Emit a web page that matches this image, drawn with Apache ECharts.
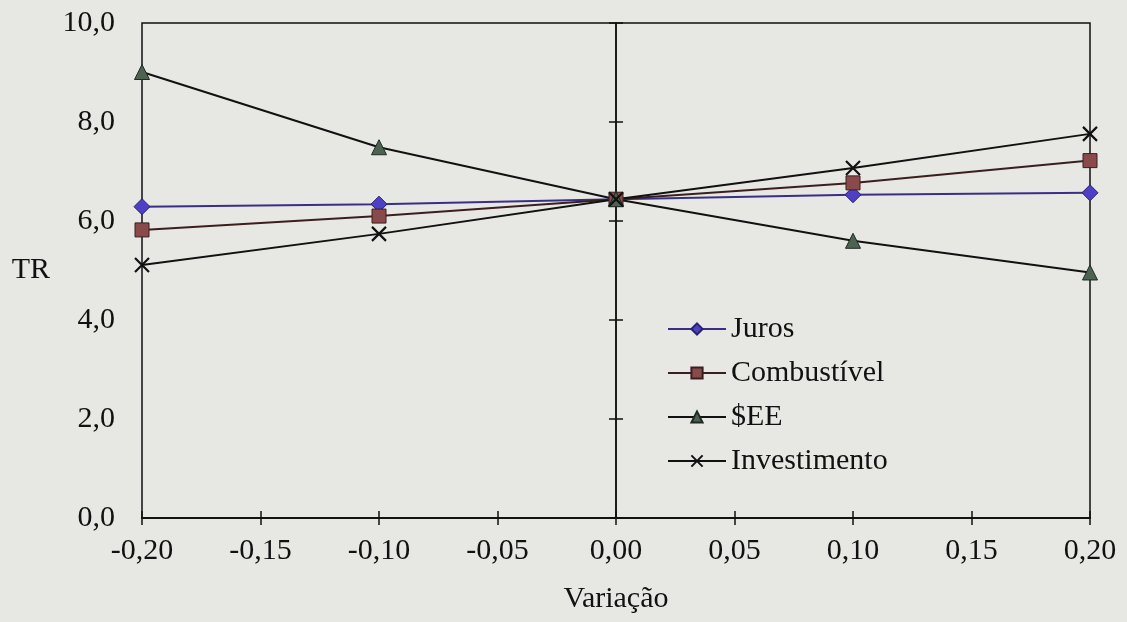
<!DOCTYPE html>
<html>
<head>
<meta charset="utf-8">
<script src="https://cdn.jsdelivr.net/npm/echarts@6/dist/echarts.min.js"></script>
<style>
html,body{margin:0;padding:0;background:#e7e7e4;}
#c{width:1127px;height:622px;}
</style>
</head>
<body>
<div id="c"></div>
<script>
var variacao = [-0.20, -0.10, 0.00, 0.10, 0.20];
var juros = [6.29, 6.34, 6.44, 6.53, 6.57];
var combustivel = [5.82, 6.10, 6.44, 6.77, 7.22];
var see = [9.01, 7.49, 6.44, 5.60, 4.96];
var investimento = [5.11, 5.74, 6.44, 7.07, 7.76];
var seriesNames = ['Juros', 'Combustível', '$EE', 'Investimento'];

var FONT = 'Liberation Serif';
var FS = 30;
function pair(arr){ return variacao.map(function(x,i){ return [x, arr[i]]; }); }
function fmtY(v){ return v.toFixed(1).replace('.', ','); }
function fmtX(v){ return Math.abs(v) < 1e-9 ? '0,00' : v.toFixed(2).replace('.', ','); }

var chart = echarts.init(document.getElementById('c'), null, {renderer:'canvas'});
var lineSt = {color:'#111', width:1.5};
chart.setOption({
  backgroundColor:'#e7e7e4',
  animation:false,
  grid:{left:142, right:37, top:23, bottom:104, show:true, borderColor:'#111', borderWidth:1.5, backgroundColor:'transparent'},
  legend:{
    orient:'vertical', left:662, top:309, itemWidth:58, itemHeight:14, itemGap:14,
    textStyle:{fontFamily:FONT, fontSize:FS, color:'#111'},
    data:seriesNames
  },
  xAxis:[
    {type:'value', min:-0.2, max:0.2, interval:0.05, position:'bottom',
     axisLine:{show:true, onZero:false, lineStyle:lineSt},
     axisTick:{show:true, inside:false, length:7, lineStyle:lineSt},
     axisLabel:{formatter:fmtX, fontFamily:FONT, fontSize:FS, color:'#111', margin:18},
     splitLine:{show:false},
     name:'Variação', nameLocation:'middle', nameGap:66,
     nameTextStyle:{fontFamily:FONT, fontSize:FS, color:'#111'}},
    {type:'value', min:-0.2, max:0.2, interval:0.05, position:'bottom',
     axisLine:{show:true, onZero:false, lineStyle:lineSt},
     axisTick:{show:true, inside:true, length:7, lineStyle:lineSt},
     axisLabel:{show:false}, splitLine:{show:false}}
  ],
  yAxis:[
    {type:'value', min:0, max:10, interval:2, position:'left',
     axisLine:{show:false}, axisTick:{show:false},
     axisLabel:{formatter:fmtY, fontFamily:FONT, fontSize:FS, color:'#111', margin:27},
     splitLine:{show:false},
     name:'TR', nameLocation:'middle', nameRotate:0, nameGap:92,
     nameTextStyle:{fontFamily:FONT, fontSize:FS, color:'#111'}},
    {type:'value', min:0, max:10, interval:2, position:'left',
     axisLine:{show:true, onZero:true, onZeroAxisIndex:0, lineStyle:lineSt},
     axisTick:{show:true, inside:false, length:7, lineStyle:lineSt},
     axisLabel:{show:false}, splitLine:{show:false}},
    {type:'value', min:0, max:10, interval:2, position:'right',
     axisLine:{show:true, onZero:true, onZeroAxisIndex:1, lineStyle:lineSt},
     axisTick:{show:true, inside:false, length:7, lineStyle:lineSt},
     axisLabel:{show:false}, splitLine:{show:false}}
  ],
  series:[
    {name:'Juros', type:'line', data:pair(juros), symbol:'diamond', symbolSize:16,
     lineStyle:{color:'#3a2f86', width:2},
     itemStyle:{color:'#4f3fc4', borderColor:'#2a2070', borderWidth:1}},
    {name:'Combustível', type:'line', data:pair(combustivel), symbol:'rect', symbolSize:14,
     lineStyle:{color:'#3a1f1f', width:2},
     itemStyle:{color:'#8a4a4c', borderColor:'#3a1f1f', borderWidth:1}},
    {name:'$EE', type:'line', data:pair(see), symbol:'triangle', symbolSize:15,
     lineStyle:{color:'#111', width:2},
     itemStyle:{color:'#4c6352', borderColor:'#1e2a22', borderWidth:1}},
    {name:'Investimento', type:'line', data:pair(investimento), symbol:'path://M0,0L10,10M10,0L0,10', symbolSize:14,
     lineStyle:{color:'#111', width:2},
     itemStyle:{color:'#111', borderColor:'#111', borderWidth:2.2}}
  ]
});
</script>
</body>
</html>
